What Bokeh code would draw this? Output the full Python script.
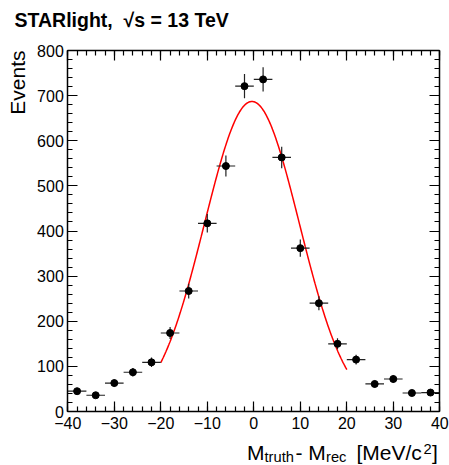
import numpy as np
from bokeh.plotting import figure
from bokeh.models import Range1d, LinearAxis, FixedTicker, Label, ColumnDataSource, CustomJSTickFormatter
from bokeh.embed import file_html
from bokeh.resources import INLINE

# ---- data ----
bin_centers = [-38, -34, -30, -26, -22, -18, -14, -10, -6, -2, 2, 6, 10, 14, 18, 22, 26, 30, 34, 38]
bin_half_width = 2
events = [45, 36, 63, 87, 109, 174, 267, 417, 544, 721, 736, 563, 362, 240, 150, 115, 61, 72, 41, 42]

fit_amplitude = 687.0
fit_mean = -0.4
fit_sigma = 10.2
fit_range = [-20.0, 20.0]

x_limits = [-40, 40]
y_limits = [0, 800]
x_major_ticks = [-40, -30, -20, -10, 0, 10, 20, 30, 40]
x_tick_labels = ["\u221240", "\u221230", "\u221220", "\u221210", "0", "10", "20", "30", "40"]
x_minor_ticks = list(range(-40, 41, 2))
y_major_ticks = [0, 100, 200, 300, 400, 500, 600, 700, 800]
y_tick_labels = ["0", "100", "200", "300", "400", "500", "600", "700", "800"]
y_minor_ticks = list(range(0, 801, 20))

FONT = "Liberation Sans"
W, H = 449, 465
# frame box (pixels from the top-left corner of the canvas)
FX0, FX1, FY0, FY1 = 67.3, 439.3, 50.0, 411.0

# ---- derived ----
xc = np.array(bin_centers, dtype=float)
yv = np.array(events, dtype=float)
err = np.sqrt(yv)
src = ColumnDataSource(dict(x=xc, y=yv, x0=xc - bin_half_width, x1=xc + bin_half_width,
                            y0=yv - err, y1=yv + err))
xf = np.linspace(fit_range[0], fit_range[1], 300)
yf = fit_amplitude * np.exp(-0.5 * ((xf - fit_mean) / fit_sigma) ** 2)

# the plotting area fills the whole canvas; the visible box is drawn by four axes
sx = (FX1 - FX0) / (x_limits[1] - x_limits[0])
sy = (FY1 - FY0) / (y_limits[1] - y_limits[0])
xr = Range1d(x_limits[0] - FX0 / sx, x_limits[1] + (W - FX1) / sx)
yr = Range1d(y_limits[0] - (H - FY1) / sy, y_limits[1] + FY0 / sy)

p = figure(width=W, height=H, output_backend="svg", toolbar_location=None,
           x_range=xr, y_range=yr, min_border=0,
           x_axis_location=None, y_axis_location=None)
p.grid.visible = False
p.outline_line_color = None
p.background_fill_color = "white"
p.border_fill_color = "white"

xt = FixedTicker(ticks=x_major_ticks, minor_ticks=x_minor_ticks)
yt = FixedTicker(ticks=y_major_ticks, minor_ticks=y_minor_ticks)

def make_axis(ticker, loc, bounds, overrides=None):
    ax = LinearAxis(ticker=ticker, fixed_location=loc, bounds=bounds)
    ax.major_tick_in = 10
    ax.major_tick_out = 0
    ax.minor_tick_in = 5
    ax.minor_tick_out = 0
    ax.axis_line_width = 1.5
    ax.major_tick_line_width = 1.2
    ax.minor_tick_line_width = 1.2
    ax.major_label_text_font = FONT
    ax.major_label_text_font_size = "16px"
    ax.major_label_text_color = "black"
    ax.major_label_standoff = 4
    if overrides is None:
        ax.formatter = CustomJSTickFormatter(code="return ''")
    else:
        ax.major_label_overrides = overrides
    return ax

bottom = make_axis(xt, y_limits[0], tuple(x_limits), dict(zip(x_major_ticks, x_tick_labels)))
bottom.major_label_standoff = 5
p.add_layout(bottom, "below")
top = make_axis(xt, y_limits[1], tuple(x_limits))
p.add_layout(top, "above")
left = make_axis(yt, x_limits[0], tuple(y_limits), dict(zip(y_major_ticks, y_tick_labels)))
p.add_layout(left, "left")
right = make_axis(yt, x_limits[1], tuple(y_limits))
p.add_layout(right, "right")

# fit curve
p.line(xf, yf, line_color="#ff0000", line_width=1.5)
# error bars and markers
p.segment(x0="x0", y0="y", x1="x1", y1="y", source=src, line_color="#222222", line_width=1.2)
p.segment(x0="x", y0="y0", x1="x", y1="y1", source=src, line_color="#222222", line_width=1.2)
p.scatter(x="x", y="y", source=src, marker="circle", size=7, color="black")

# ---- texts, placed in canvas pixels (from the top-left corner), given by their baseline ----
def lab(text, cx, base, size_px, **kw):
    # vertical middle of the text sits about 0.35 em above its baseline
    p.add_layout(Label(text=text, x=cx, y=H - (base - 0.35 * size_px), x_units="screen", y_units="screen",
                       text_font=FONT, text_font_size=f"{size_px}px", text_color="black",
                       text_baseline="middle", **kw))

lab("STARlight,\u00a0 \u221as = 13 TeV", 14, 26, 19.5, text_font_style="bold")

p.add_layout(Label(text="Events", x=24 - 0.35 * 21, y=H - 50, x_units="screen", y_units="screen",
                   angle=np.pi / 2, text_align="right", text_baseline="middle",
                   text_font=FONT, text_font_size="21px", text_color="black"))

lab("M", 246.5, 459, 21)
lab("truth", 264, 461.5, 14.7)
lab("- M", 295, 459, 21)
lab("rec", 325.5, 461.5, 14.7)
lab("[MeV/c", 356, 459, 21)
lab("2", 423, 453.3, 14.7)
lab("]", 431.5, 459, 21)

open("out.html", "w").write(file_html(p, INLINE))
